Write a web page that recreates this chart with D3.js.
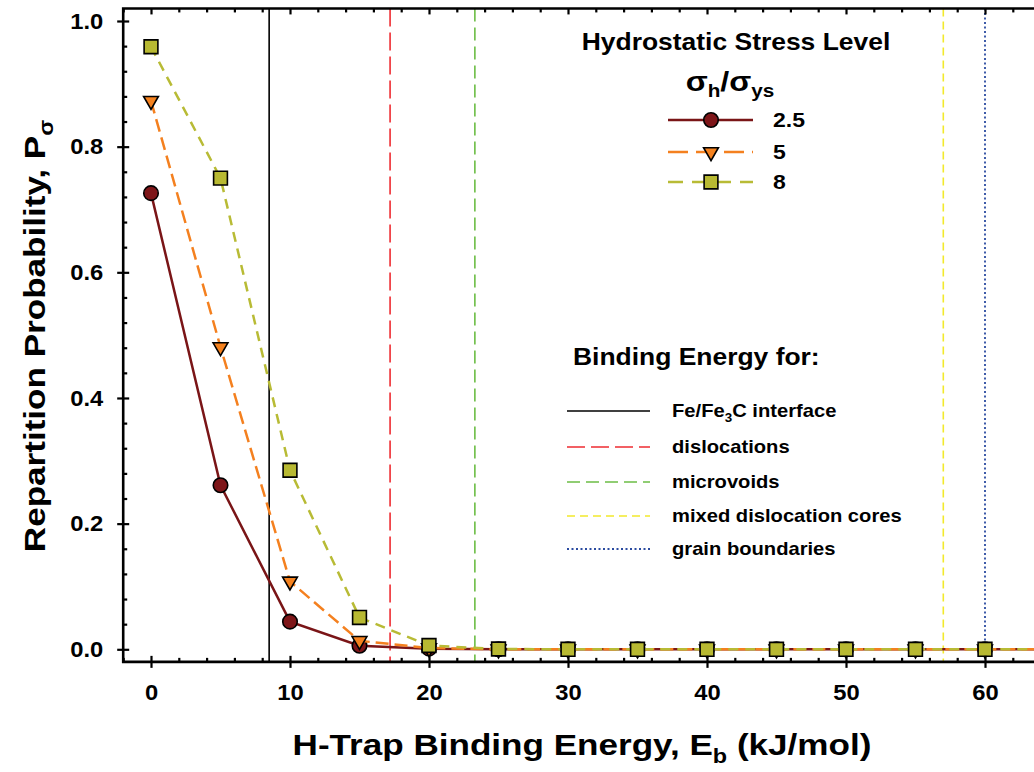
<!DOCTYPE html>
<html>
<head>
<meta charset="utf-8">
<script src="https://cdn.jsdelivr.net/npm/d3@7"></script>
<style>
  body { margin: 0; background: #fff; }
  svg { display: block; font-family: "Liberation Sans", Arial, sans-serif; font-weight: bold; }
</style>
</head>
<body>
<div id="chart"></div>
<script>
// binding energies (kJ/mol)
let energy = [0, 5, 10, 15, 20, 25, 30, 35, 40, 45, 50, 55, 60, 65];

// repartition probability for each hydrostatic stress level
let pLow = [0.726, 0.261, 0.044, 0.0056, 0.001, 0, 0, 0, 0, 0, 0, 0, 0, 0];
let pMid = [0.873, 0.481, 0.108, 0.0135, 0.002, 0, 0, 0, 0, 0, 0, 0, 0, 0];
let pHigh = [0.959, 0.750, 0.285, 0.0507, 0.006, 0.0005, 0, 0, 0, 0, 0, 0, 0, 0];

let stressLabels = ["2.5", "5", "8"];

// trap binding energies (vertical markers)
let trapNames = ["Fe/Fe3C interface", "dislocations", "microvoids", "mixed dislocation cores", "grain boundaries"];
let trapEnergy = [8.5, 17.2, 23.3, 57, 60];

let xTicks = [0, 10, 20, 30, 40, 50, 60];
let yTicks = [0, 0.2, 0.4, 0.6, 0.8, 1.0];

let width = 1034, height = 772;
// the original export has its lettering stretched sideways
let stretch = 1.15;

let svg = d3.select("#chart").append("svg")
	.attr("width", width)
	.attr("height", height);

let x = d3.scaleLinear().domain([0, 60]).range([151, 985]);
let y = d3.scaleLinear().domain([0, 1]).range([649.3, 21]);

let xLeft = x(-2), xRight = x(66);
let yTop = y(1.02), yBot = y(-0.02);

// text placed at (px,py), widened by sx
function addText(px, py, size, sx, rot) {
	let g = svg.append("g")
		.attr("transform", "translate(" + px + "," + py + ")" + (rot ? " rotate(" + rot + ")" : "") + " scale(" + sx + ",1)");
	return g.append("text").attr("font-size", size);
}

// reference lines
let trapStyles = [
	{color: "#000000", dash: null, w: 1.6},
	{color: "#ee2d32", dash: "18,6", w: 1.6},
	{color: "#6cbd45", dash: "13,6", w: 1.6},
	{color: "#f2e92c", dash: "8,5", w: 1.6},
	{color: "#2b4ba0", dash: "2,2.5", w: 1.8}
];

svg.append("g").selectAll("line")
	.data(trapEnergy)
	.enter()
	.append("line")
	.attr("x1", d => x(d))
	.attr("x2", d => x(d))
	.attr("y1", yTop)
	.attr("y2", yBot)
	.attr("stroke", (d, i) => trapStyles[i].color)
	.attr("stroke-width", (d, i) => trapStyles[i].w)
	.attr("stroke-dasharray", (d, i) => trapStyles[i].dash);

// series
let series = [
	{values: pLow, color: "#7a1517", fill: "#7e1619", dash: null, shape: "circle"},
	{values: pMid, color: "#f4801f", fill: "#f5821f", dash: "13,6", shape: "triangle"},
	{values: pHigh, color: "#b8bb35", fill: "#b8b932", dash: "10,7", shape: "square"}
];

let symbolFor = function(shape) {
	if (shape == "circle") return d3.symbol().type(d3.symbolCircle).size(165)();
	if (shape == "triangle") return d3.symbol().type(d3.symbolTriangle).size(95)();
	return d3.symbol().type(d3.symbolSquare).size(190)();
};

let line = d3.line()
	.x((d, i) => x(energy[i]))
	.y(d => y(d));

series.forEach(s => {
	svg.append("path")
		.datum(s.values)
		.attr("d", line)
		.attr("fill", "none")
		.attr("stroke", s.color)
		.attr("stroke-width", 2.5)
		.attr("stroke-dasharray", s.dash);

	svg.append("g").selectAll("path")
		.data(s.values)
		.enter()
		.append("path")
		.attr("d", symbolFor(s.shape))
		.attr("transform", (d, i) => "translate(" + x(energy[i]) + "," + y(d) + ")" + (s.shape == "triangle" ? " rotate(180)" : ""))
		.attr("fill", s.fill)
		.attr("stroke", "#000")
		.attr("stroke-width", 1.6);
});

// axes
let minorX = d3.range(-2, 66, 2).filter(d => d % 10 != 0);
let minorY = d3.range(0, 1.01, 0.04).map(d => +d.toFixed(2)).filter(d => Math.abs(d * 5 - Math.round(d * 5)) > 1e-6);

// bottom
let xAxis = svg.append("g")
	.attr("class", "x-labels")
	.attr("transform", "translate(0," + yBot + ")")
	.call(d3.axisBottom(x).tickValues(xTicks).tickSize(6).tickPadding(17).tickFormat(d3.format("d")));
svg.append("g")
	.attr("transform", "translate(0," + yBot + ")")
	.call(d3.axisBottom(x).tickValues(xTicks).tickSize(-6).tickFormat(""));
svg.append("g")
	.attr("transform", "translate(0," + yBot + ")")
	.call(d3.axisBottom(x).tickValues(minorX).tickSize(-4).tickFormat(""));

// top
svg.append("g")
	.attr("transform", "translate(0," + yTop + ")")
	.call(d3.axisTop(x).tickValues(xTicks).tickSize(-6).tickFormat(""));
svg.append("g")
	.attr("transform", "translate(0," + yTop + ")")
	.call(d3.axisTop(x).tickValues(minorX).tickSize(-4).tickFormat(""));

// left
let yAxis = svg.append("g")
	.attr("class", "y-labels")
	.attr("transform", "translate(" + xLeft + ",0)")
	.call(d3.axisLeft(y).tickValues(yTicks).tickSize(6).tickPadding(14).tickFormat(d3.format(".1f")));
svg.append("g")
	.attr("transform", "translate(" + xLeft + ",0)")
	.call(d3.axisLeft(y).tickValues(yTicks).tickSize(-6).tickFormat(""));
svg.append("g")
	.attr("transform", "translate(" + xLeft + ",0)")
	.call(d3.axisLeft(y).tickValues(minorY).tickSize(-4).tickFormat(""));

svg.selectAll(".domain").remove();
svg.selectAll(".tick line").attr("stroke", "#000").attr("stroke-width", 2.2);
svg.selectAll(".tick text")
	.attr("fill", "#000")
	.attr("font-size", 22)
	.attr("font-family", "'Liberation Sans', Arial, sans-serif")
	.attr("font-weight", "bold")
	.attr("transform", "scale(1.08,1)");
yAxis.selectAll(".tick text").attr("x", -20 / 1.08);

// frame
svg.append("path")
	.attr("d", "M" + (xRight + 10) + "," + yTop + "H" + xLeft + "V" + yBot + "H" + (xRight + 10))
	.attr("fill", "none")
	.attr("stroke", "#000")
	.attr("stroke-width", 2.6);

// axis titles
let xTitle = addText(582, 755, 30, 1.17).attr("text-anchor", "middle");
xTitle.append("tspan").text("H-Trap Binding Energy, E");
xTitle.append("tspan").attr("font-size", 20).attr("dy", 8).text("b");
xTitle.append("tspan").attr("dy", -8).text(" (kJ/mol)");

let yTitle = addText(45, 336, 30, 1.17, -90).attr("text-anchor", "middle");
yTitle.append("tspan").text("Repartition Probability, P");
yTitle.append("tspan").attr("font-size", 20).attr("dy", 8).text("σ");

// legend: stress level
addText(736, 50, 23, stretch).attr("text-anchor", "middle").text("Hydrostatic Stress Level");

let sig = addText(730, 91, 28, stretch).attr("text-anchor", "middle");
sig.append("tspan").text("σ");
sig.append("tspan").attr("font-size", 18).attr("dy", 6).text("h");
sig.append("tspan").attr("dy", -6).text("/σ");
sig.append("tspan").attr("font-size", 18).attr("dy", 6).text("ys");

let legY = [120, 152, 182];
series.forEach((s, i) => {
	let g = svg.append("g").attr("transform", "translate(0," + legY[i] + ")");
	g.append("line")
		.attr("x1", 668).attr("x2", 753)
		.attr("stroke", s.color)
		.attr("stroke-width", 2.5)
		.attr("stroke-dasharray", s.dash ? (i == 1 ? "20,8" : "15,9") : null);
	g.append("path")
		.attr("d", symbolFor(s.shape))
		.attr("transform", "translate(711,0)" + (s.shape == "triangle" ? " rotate(180)" : ""))
		.attr("fill", s.fill)
		.attr("stroke", "#000")
		.attr("stroke-width", 1.6);
	addText(773, legY[i], 20, stretch).attr("dy", "0.35em").text(stressLabels[i]);
});

// legend: binding energies
addText(573, 365, 23, stretch).text("Binding Energy for:");

let trapLegY = [411, 447, 482, 516, 549];
trapNames.forEach((name, i) => {
	svg.append("line")
		.attr("x1", 567).attr("x2", 650)
		.attr("y1", trapLegY[i]).attr("y2", trapLegY[i])
		.attr("stroke", trapStyles[i].color)
		.attr("stroke-width", trapStyles[i].w)
		.attr("stroke-dasharray", trapStyles[i].dash);
	let t = addText(672, trapLegY[i], 18, 1.12).attr("dy", "0.35em");
	if (i == 0) {
		t.append("tspan").text("Fe/Fe");
		t.append("tspan").attr("font-size", 12).attr("dy", 5).text("3");
		t.append("tspan").attr("dy", -5).text("C interface");
	} else {
		t.text(name);
	}
});
</script>
</body>
</html>
